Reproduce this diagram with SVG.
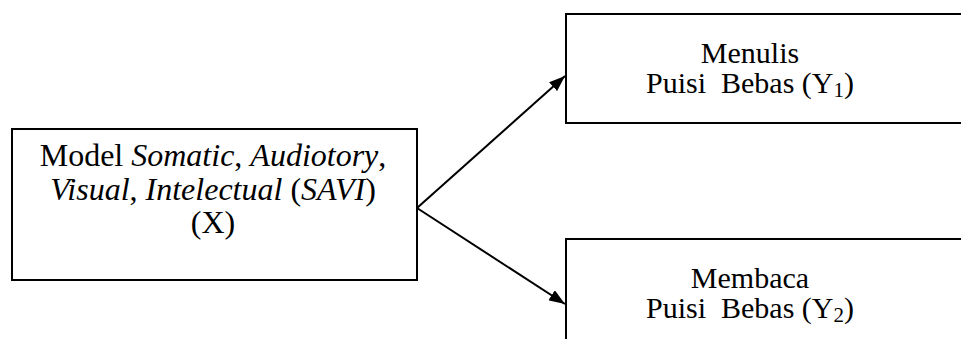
<svg xmlns="http://www.w3.org/2000/svg" width="961" height="339" viewBox="0 0 961 339">
<style>
  .box { fill: #ffffff; stroke: #000000; stroke-width: 2; }
  .t { font-family: "Liberation Serif", "Times New Roman", serif; font-size: 30px; fill: #000000; text-anchor: middle; }
  .big { font-size: 32px; }
  .i { font-style: italic; }
  .edge { stroke: #000000; stroke-width: 2; fill: none; }
</style>
<defs>
  <marker id="arrow" viewBox="0 0 16 12" refX="16" refY="6" markerWidth="16" markerHeight="12" markerUnits="userSpaceOnUse" orient="auto">
    <path d="M0,0 L16,6 L0,12 Z" fill="#000000"/>
  </marker>
</defs>
<rect width="961" height="339" fill="#ffffff"/>
<g id="node-x">
  <rect class="box" x="12" y="129" width="405" height="151"/>
  <text class="t big" x="213" y="166">Model <tspan class="i">Somatic</tspan>, <tspan class="i">Audiotory</tspan>,</text>
  <text class="t big" x="213" y="200"><tspan class="i">Visual</tspan>, <tspan class="i">Intelectual</tspan> (<tspan class="i">SAVI</tspan>)</text>
  <text class="t big" x="213" y="233">(X)</text>
</g>
<g id="node-y1">
  <rect class="box" x="566" y="14" width="420" height="109"/>
  <text class="t" x="750" y="63">Menulis</text>
  <text class="t" x="750" y="93" xml:space="preserve">Puisi  Bebas (Y<tspan font-size="21" dy="4">1</tspan><tspan dy="-4">)</tspan></text>
</g>
<g id="node-y2">
  <rect class="box" x="566" y="239" width="420" height="120"/>
  <text class="t" x="750" y="288">Membaca</text>
  <text class="t" x="750" y="318" xml:space="preserve">Puisi  Bebas (Y<tspan font-size="21" dy="4">2</tspan><tspan dy="-4">)</tspan></text>
</g>
<g id="connectors">
  <line class="edge" x1="417" y1="208" x2="565" y2="76" marker-end="url(#arrow)"/>
  <line class="edge" x1="417" y1="208" x2="565" y2="304" marker-end="url(#arrow)"/>
</g>
</svg>
